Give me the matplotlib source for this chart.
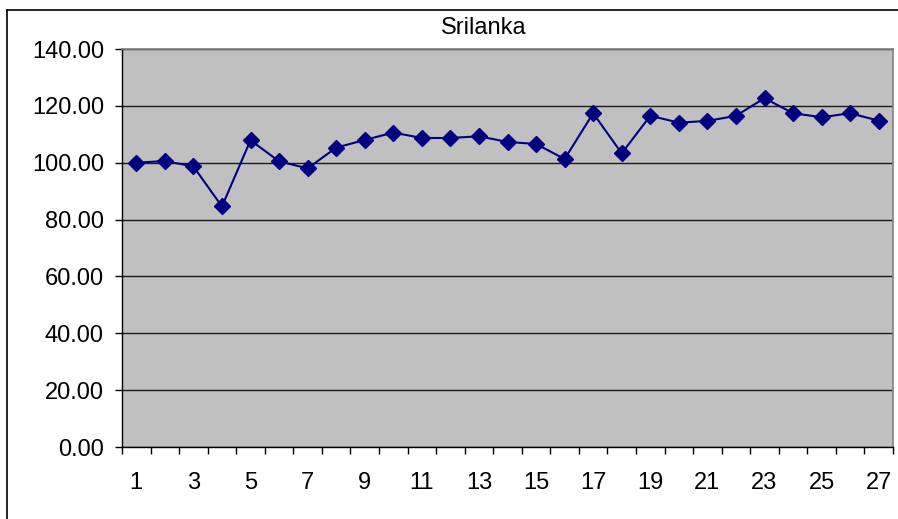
import numpy as np
import matplotlib.pyplot as plt
from matplotlib.lines import Line2D

plt.rcParams['font.family'] = ['Liberation Sans', 'DejaVu Sans']

# data
periods = np.arange(1, 28)
values = [100.0, 100.6, 98.7, 84.6, 107.9, 100.5, 98.0, 105.3, 108.0, 110.6,
          108.7, 108.7, 109.3, 107.3, 106.6, 101.3, 117.4, 103.3, 116.5, 114.1,
          114.7, 116.5, 122.7, 117.4, 116.0, 117.4, 114.8]
yticks = [0, 20, 40, 60, 80, 100, 120, 140]

fig = plt.figure(figsize=(8.98, 5.19), dpi=100)
ax = fig.add_axes([122/898, 1-447/519, (893-122)/898, (447-49)/519])
ax.set_facecolor('#c0c0c0')

ax.plot(periods, values, color='#000080', linewidth=1.5, marker='D',
        markersize=8, zorder=3)

ax.set_xlim(0.5, 27.5)
ax.set_ylim(0, 140)

ax.set_yticks(yticks)
ax.set_yticklabels(['%.2f' % v for v in yticks])
ax.yaxis.grid(True, color='#1a1a1a', linewidth=1.0)
ax.set_axisbelow(True)

# ticks between categories, labels on every other category
ax.set_xticks(np.arange(0.5, 28, 1))
ax.set_xticklabels([])
ax.set_xticks(periods[::2], minor=True)
ax.set_xticklabels([str(p) for p in periods[::2]], minor=True)
ax.tick_params(axis='x', which='major', direction='out', length=5, width=1, color='black')
ax.tick_params(axis='x', which='minor', length=0, pad=18, labelsize=17)
ax.tick_params(axis='y', direction='out', length=5, width=1, color='black', pad=8, labelsize=17)

for s in ['top', 'right']:
    ax.spines[s].set_color('#808080')
    ax.spines[s].set_linewidth(1.2)
for s in ['left', 'bottom']:
    ax.spines[s].set_color('black')
    ax.spines[s].set_linewidth(1.0)

fig.text(484/898, 1-28/519, 'Srilanka', ha='center', va='center', fontsize=17)

# chart border (only left and top edges fall inside the picture)
fig.add_artist(Line2D([7/898, 7/898], [0, 1-10/519], color='black', linewidth=1.2))
fig.add_artist(Line2D([7/898, 1], [1-10/519, 1-10/519], color='black', linewidth=1.2))

fig.savefig('out.png', dpi=100)
